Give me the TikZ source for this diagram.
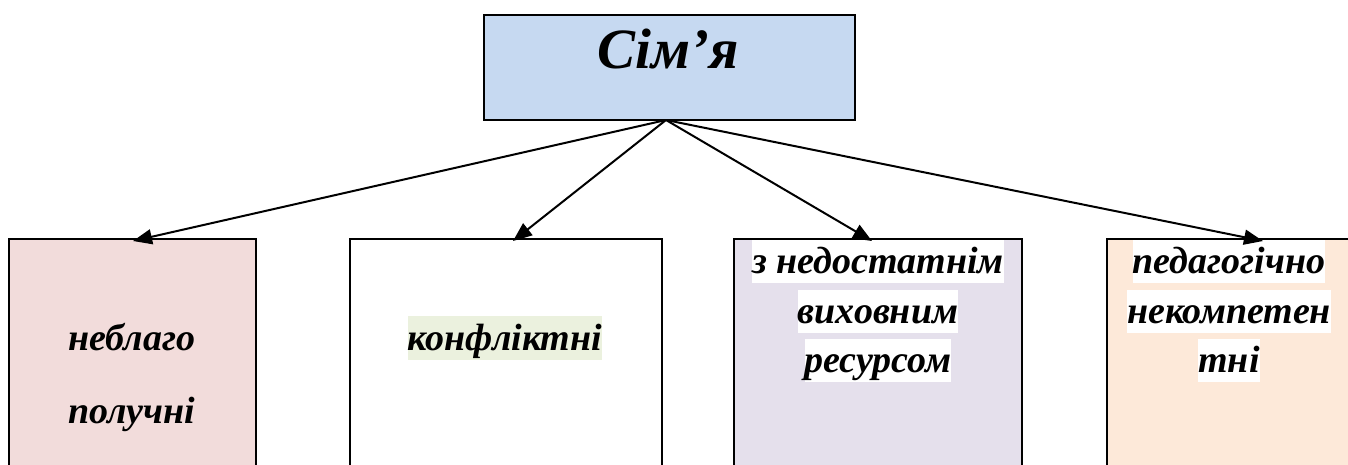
\documentclass[tikz,border=0pt]{standalone}
\usepackage{fontspec}
\setmainfont{Liberation Serif}
\usetikzlibrary{arrows.meta}
\definecolor{topblue}{HTML}{C6D9F1}
\definecolor{pinkf}{HTML}{F2DCDB}
\definecolor{lavf}{HTML}{E5E0EC}
\definecolor{peachf}{HTML}{FDE9D9}
\definecolor{greenhl}{HTML}{EBF1DE}
\tikzset{
  x=1pt, y=-1pt,
  boxframe/.style={draw=black, line width=2pt},
  lbl/.style={font=\fontsize{38}{42}\selectfont\bfseries\itshape, anchor=base, inner xsep=0pt, inner ysep=0pt},
  hl/.style={lbl, fill=white, text height=33pt, text depth=10pt, anchor=base},
  conn/.style={line width=2pt, -{Triangle[length=19pt,width=15pt]}},
}
\begin{document}
\begin{tikzpicture}
\useasboundingbox (0,0) rectangle (1348,464);
\clip (0,0) rectangle (1348,464);
% top box
\node[boxframe, fill=topblue, minimum width=371pt, minimum height=105pt, anchor=north west, inner sep=0pt] (top) at (483,14) {};
\node[font=\fontsize{57}{62}\selectfont\bfseries\itshape, anchor=base, inner sep=0pt] (toptxt) at (668,68) {Сім’я};
% bottom boxes
\draw[boxframe, fill=pinkf] (9,470) |- (256,239) -- (256,470);
\draw[boxframe, fill=white] (350,470) |- (662,239) -- (662,470);
\draw[boxframe, fill=lavf] (734,470) |- (1022,239) -- (1022,470);
\draw[boxframe, fill=peachf] (1107,470) |- (1370,239) -- (1370,470);
\node[draw=none, minimum width=247pt, minimum height=230pt, anchor=north west] (b1) at (9,239) {};
\node[draw=none, minimum width=312pt, minimum height=230pt, anchor=north west] (b2) at (350,239) {};
\node[draw=none, minimum width=288pt, minimum height=230pt, anchor=north west] (b3) at (734,239) {};
\node[draw=none, minimum width=260pt, minimum height=230pt, anchor=north west] (b4) at (1107,239) {};
% texts
\node[lbl] (t1a) at (132,350) {неблаго};
\node[lbl] (t1b) at (132,423) {получні};
\node[hl, fill=greenhl, text height=34pt] (t2) at (505,350) {конфліктні};
\node[hl] (t3a) at (878,273) {з недостатнім};
\node[hl] (t3b) at (878,323) {виховним};
\node[hl] (t3c) at (878,372) {ресурсом};
\node[hl] (t4a) at (1229,273) {педагогічно};
\node[hl] (t4b) at (1229,323) {некомпетен};
\node[hl] (t4c) at (1229,372) {тні};
% connectors
\coordinate (src) at (666,120);
\coordinate (e1) at (133,241);
\coordinate (e2) at (513,241);
\coordinate (e3) at (872,241);
\coordinate (e4) at (1263,241);
\draw[conn] (src) -- (e1);
\draw[conn] (src) -- (e2);
\draw[conn] (src) -- (e3);
\draw[conn] (src) -- (e4);
\end{tikzpicture}
\end{document}
